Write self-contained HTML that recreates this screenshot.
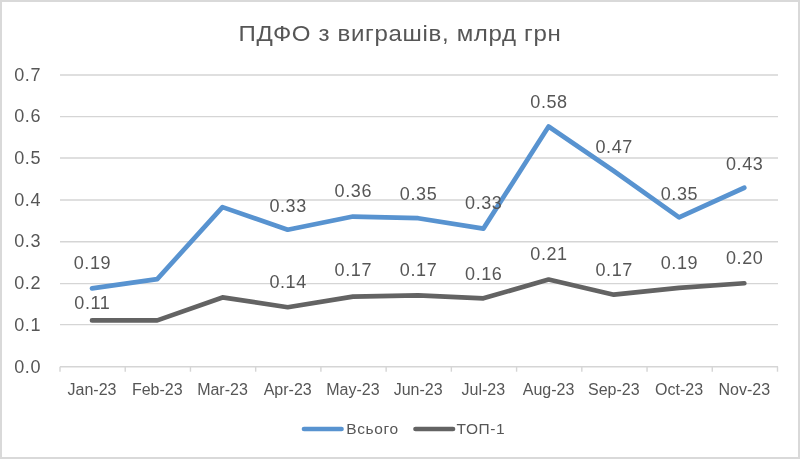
<!DOCTYPE html>
<html lang="uk"><head><meta charset="utf-8"><title>ПДФО з виграшів, млрд грн</title>
<style>
html,body{margin:0;padding:0;background:#fff;}
body{width:800px;height:459px;overflow:hidden;position:relative;}
svg{position:absolute;left:0;top:0;display:block;}
text{font-family:"Liberation Sans",sans-serif;fill:#565656;}
.t{font-size:22.4px;letter-spacing:0.6px;}
.v{font-size:18px;letter-spacing:0.6px;}
.x{font-size:16px;}
.l{font-size:15.5px;letter-spacing:0.6px;}
</style></head><body>
<svg width="800" height="459" viewBox="0 0 800 459">
<rect x="0" y="0" width="800" height="459" fill="#ffffff"/>
<rect x="1" y="1" width="798" height="457" fill="none" stroke="#d9d9d9" stroke-width="2"/>

<g stroke="#d5d5d5" stroke-width="1.4" fill="none">
<line x1="60.0" y1="366.70" x2="778.0" y2="366.70"/>
<line x1="60.0" y1="324.60" x2="778.0" y2="324.60"/>
<line x1="60.0" y1="283.60" x2="778.0" y2="283.60"/>
<line x1="60.0" y1="241.80" x2="778.0" y2="241.80"/>
<line x1="60.0" y1="200.00" x2="778.0" y2="200.00"/>
<line x1="60.0" y1="158.00" x2="778.0" y2="158.00"/>
<line x1="60.0" y1="116.60" x2="778.0" y2="116.60"/>
<line x1="60.0" y1="75.00" x2="778.0" y2="75.00"/>
<line x1="60.00" y1="366.7" x2="60.00" y2="371.7"/>
<line x1="125.23" y1="366.7" x2="125.23" y2="371.7"/>
<line x1="190.45" y1="366.7" x2="190.45" y2="371.7"/>
<line x1="255.68" y1="366.7" x2="255.68" y2="371.7"/>
<line x1="320.91" y1="366.7" x2="320.91" y2="371.7"/>
<line x1="386.14" y1="366.7" x2="386.14" y2="371.7"/>
<line x1="451.36" y1="366.7" x2="451.36" y2="371.7"/>
<line x1="516.59" y1="366.7" x2="516.59" y2="371.7"/>
<line x1="581.82" y1="366.7" x2="581.82" y2="371.7"/>
<line x1="647.05" y1="366.7" x2="647.05" y2="371.7"/>
<line x1="712.27" y1="366.7" x2="712.27" y2="371.7"/>
<line x1="777.50" y1="366.7" x2="777.50" y2="371.7"/>
</g>
<g class="v" text-anchor="end">
<text x="41" y="372.65">0.0</text>
<text x="41" y="330.93">0.1</text>
<text x="41" y="289.21">0.2</text>
<text x="41" y="247.49">0.3</text>
<text x="41" y="205.77">0.4</text>
<text x="41" y="164.05">0.5</text>
<text x="41" y="122.33">0.6</text>
<text x="41" y="80.61">0.7</text>
</g>
<g class="x" text-anchor="middle">
<text x="92.01" y="395">Jan-23</text>
<text x="157.24" y="395">Feb-23</text>
<text x="222.47" y="395">Mar-23</text>
<text x="287.70" y="395">Apr-23</text>
<text x="352.92" y="395">May-23</text>
<text x="418.15" y="395">Jun-23</text>
<text x="483.38" y="395">Jul-23</text>
<text x="548.60" y="395">Aug-23</text>
<text x="613.83" y="395">Sep-23</text>
<text x="679.06" y="395">Oct-23</text>
<text x="744.29" y="395">Nov-23</text>
</g>
<text class="t" transform="translate(400,41) scale(1.075,1)" x="0" y="0" text-anchor="middle">ПДФО з виграшів, млрд грн</text>
<polyline points="92.01,288.39 157.24,279.09 222.47,207.14 287.70,229.71 352.92,216.53 418.15,218.20 483.38,228.62 548.60,126.52 613.83,171.06 679.06,217.36 744.29,187.75" fill="none" stroke="#5893d0" stroke-width="4.7" stroke-linecap="round" stroke-linejoin="round"/>
<polyline points="92.01,320.38 157.24,320.38 222.47,297.44 287.70,307.20 352.92,296.61 418.15,295.36 483.38,298.28 548.60,279.51 613.83,294.69 679.06,287.85 744.29,283.26" fill="none" stroke="#636363" stroke-width="4.7" stroke-linecap="round" stroke-linejoin="round"/>
<g class="v" text-anchor="middle">
<text x="92.41" y="268.95">0.19</text>
<text x="288.10" y="211.65">0.33</text>
<text x="353.32" y="196.85">0.36</text>
<text x="418.55" y="200.45">0.35</text>
<text x="483.78" y="209.45">0.33</text>
<text x="549.00" y="107.75">0.58</text>
<text x="614.23" y="153.45">0.47</text>
<text x="679.46" y="199.95">0.35</text>
<text x="744.69" y="169.95">0.43</text>
<text x="92.41" y="309.05">0.11</text>
<text x="288.10" y="287.75">0.14</text>
<text x="353.32" y="276.35">0.17</text>
<text x="418.55" y="275.65">0.17</text>
<text x="483.78" y="280.05">0.16</text>
<text x="549.00" y="260.15">0.21</text>
<text x="614.23" y="276.25">0.17</text>
<text x="679.46" y="268.75">0.19</text>
<text x="744.69" y="263.75">0.20</text>
</g>
<line x1="304" y1="429" x2="341.5" y2="429" stroke="#5893d0" stroke-width="4.7" stroke-linecap="round"/>
<text class="l" x="346.3" y="434.4">Всього</text>
<line x1="415.5" y1="429" x2="453" y2="429" stroke="#636363" stroke-width="4.7" stroke-linecap="round"/>
<text class="l" x="456.6" y="434.4">ТОП-1</text>
</svg></body></html>
